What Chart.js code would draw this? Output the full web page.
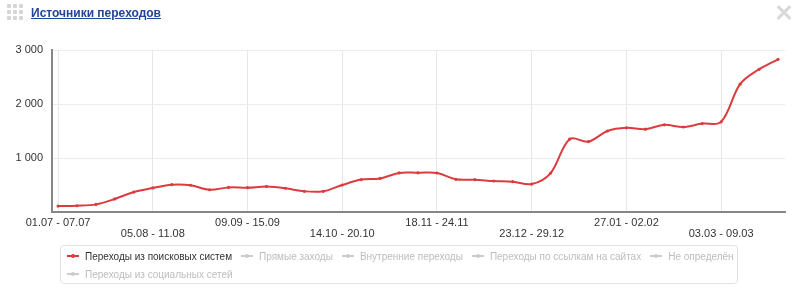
<!DOCTYPE html>
<html>
<head>
<meta charset="utf-8">
<script src="https://cdn.jsdelivr.net/npm/chart.js@4"></script>
<style>
  body { margin: 0; background: #fff; font-family: "Liberation Sans", Arial, sans-serif; }
  #wrap { position: relative; width: 800px; height: 292px; overflow: hidden; }
  #title { position: absolute; left: 31px; top: 5px; font-weight: bold; font-size: 12px; line-height: 16px; color: #23449a; text-decoration: underline; }
  #grip { position: absolute; left: 7px; top: 4px; width: 16px; height: 16px; }
  #grip i { position: absolute; width: 4px; height: 4px; border-radius: 1px; background: #d6d6d6; }
  #close { position: absolute; left: 776px; top: 5px; width: 16px; height: 16px; }
  #close i { position: absolute; left: -1px; top: 6px; width: 18px; height: 3px; background: #d9d9d9; }
  #legend { position: absolute; left: 60px; top: 245px; width: 670px; height: 37px; border: 1px solid #e2e2e2; border-radius: 4px; padding: 0 0 0 6px; display: flex; flex-wrap: wrap; align-content: flex-start; column-gap: 9px; }
  .item { display: flex; align-items: center; height: 16px; margin-top: 2px; font-size: 10px; white-space: nowrap; }
  .item .sym { position: relative; width: 12px; height: 2px; margin-right: 6px; }
  .item .sym b { position: absolute; left: 4px; top: -1px; width: 4px; height: 4px; border-radius: 2px; }
</style>
</head>
<body>
<div id="wrap">
  <canvas id="chart" width="800" height="292"></canvas>
  <div id="grip"></div>
  <div id="title">Источники переходов</div>
  <div id="close"><i style="transform: rotate(45deg)"></i><i style="transform: rotate(-45deg)"></i></div>
  <div id="legend"></div>
</div>
<script>
const weeks = [
  "01.07 - 07.07", "08.07 - 14.07", "15.07 - 21.07", "22.07 - 28.07", "29.07 - 04.08",
  "05.08 - 11.08", "12.08 - 18.08", "19.08 - 25.08", "26.08 - 01.09", "02.09 - 08.09",
  "09.09 - 15.09", "16.09 - 22.09", "23.09 - 29.09", "30.09 - 06.10", "07.10 - 13.10",
  "14.10 - 20.10", "21.10 - 27.10", "28.10 - 03.11", "04.11 - 10.11", "11.11 - 17.11",
  "18.11 - 24.11", "25.11 - 01.12", "02.12 - 08.12", "09.12 - 15.12", "16.12 - 22.12",
  "23.12 - 29.12", "30.12 - 05.01", "06.01 - 12.01", "13.01 - 19.01", "20.01 - 26.01",
  "27.01 - 02.02", "03.02 - 09.02", "10.02 - 16.02", "17.02 - 23.02", "24.02 - 02.03",
  "03.03 - 09.03", "10.03 - 16.03", "17.03 - 23.03", "24.03 - 30.03"
];

const searchVisits = [
  110, 116, 141, 242, 369, 445, 506, 495, 412, 455,
  450, 470, 440, 383, 383, 500, 600, 621, 724, 726,
  722, 605, 598, 574, 562, 517, 721, 1349, 1305, 1500,
  1558, 1534, 1614, 1574, 1638, 1670, 2368, 2643, 2828
];

const seriesNames = [
  "Переходы из поисковых систем",
  "Прямые заходы",
  "Внутренние переходы",
  "Переходы по ссылкам на сайтах",
  "Не определён",
  "Переходы из социальных сетей"
];

const yTicks = [1000, 2000, 3000];
const labelEvery = 5;

const red = "#dc3c3f";
const off = "#cccccc";

// grip dots + legend (html)
const grip = document.getElementById('grip');
for (let r = 0; r < 3; r++) {
  for (let c = 0; c < 3; c++) {
    const d = document.createElement('i');
    d.style.left = (c * 6) + 'px';
    d.style.top = (r * 6) + 'px';
    grip.appendChild(d);
  }
}

const legend = document.getElementById('legend');
seriesNames.forEach((name, i) => {
  const col = i === 0 ? red : off;
  const it = document.createElement('div');
  it.className = 'item';
  it.style.color = i === 0 ? '#333' : '#bdbdbd';
  it.innerHTML = '<span class="sym" style="background:' + col + '"><b style="background:' + col + '"></b></span>' + name;
  legend.appendChild(it);
});

const tickFont = { family: "'Liberation Sans', Arial, sans-serif", size: 11, lineHeight: 1.05 };

new Chart(document.getElementById('chart').getContext('2d'), {
  type: 'line',
  data: {
    labels: weeks,
    datasets: [{
      label: seriesNames[0],
      data: searchVisits.map((v, i) => ({ x: i, y: v })),
      borderColor: red,
      backgroundColor: red,
      borderWidth: 2,
      pointRadius: 1.6,
      pointBorderWidth: 0,
      tension: 0.35,
      fill: false
    }]
  },
  options: {
    responsive: false,
    animation: false,
    layout: { padding: { top: 50, right: 15, bottom: 52, left: 0 } },
    plugins: {
      legend: { display: false },
      tooltip: { enabled: false }
    },
    scales: {
      x: {
        type: 'linear',
        min: -0.32,
        max: weeks.length - 1 + 0.37,
        afterBuildTicks: s => {
          s.ticks = weeks.map((w, i) => i).filter(i => i % labelEvery === 0).map(i => ({ value: i }));
        },
        afterFit: s => { s.height = 28; },
        grid: { color: '#e6e6e6', drawTicks: false },
        border: { color: '#878787', width: 2 },
        ticks: {
          autoSkip: false,
          maxRotation: 0,
          padding: 5,
          color: '#333',
          font: tickFont,
          callback: v => {
            const t = weeks[v];
            return (v / labelEvery) % 2 === 0 ? [t, ''] : ['', t];
          }
        }
      },
      y: {
        min: 0,
        max: 3000,
        afterBuildTicks: s => {
          s.ticks = [0].concat(yTicks).map(v => ({ value: v }));
        },
        afterFit: s => { s.width = 52; },
        grid: { color: '#ececec', drawTicks: false },
        border: { color: '#878787', width: 2 },
        ticks: {
          padding: 9,
          color: '#333',
          font: tickFont,
          callback: v => v === 0 ? '' : String(v).replace(/\B(?=(\d{3})+(?!\d))/g, ' ')
        }
      }
    }
  }
});
</script>
</body>
</html>
